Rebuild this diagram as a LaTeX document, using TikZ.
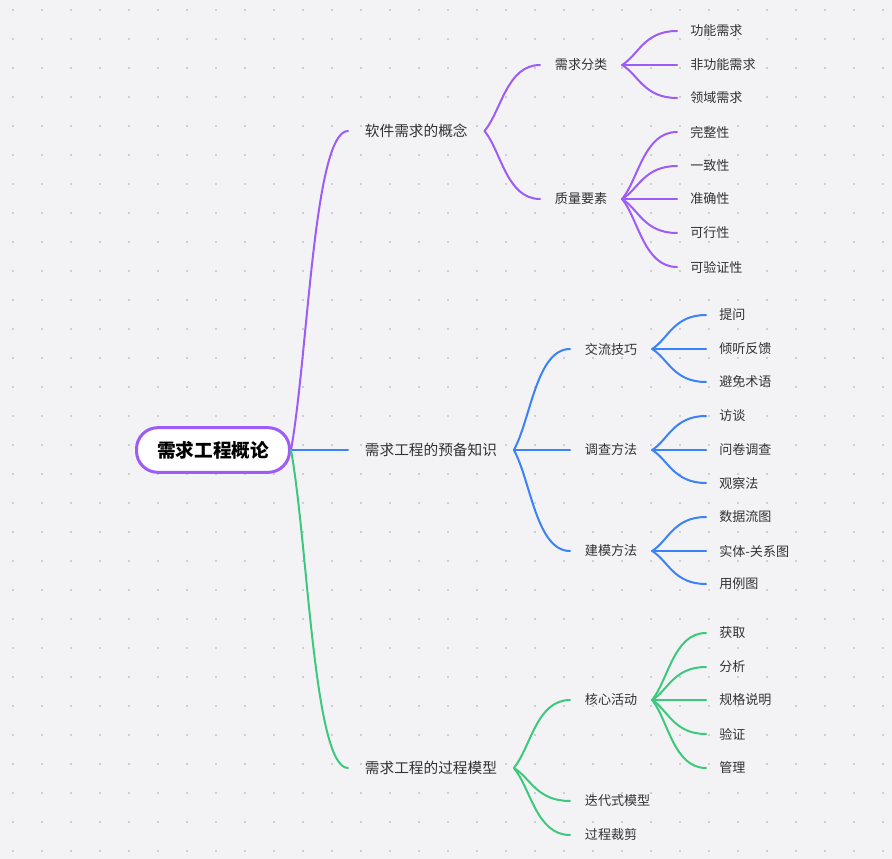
\documentclass[tikz,border=0pt]{standalone}
\usepackage{fontspec}
\setmainfont{Noto Sans CJK SC}
\usepackage{xcolor}
\usetikzlibrary{calc, positioning}

\definecolor{bgpaper}{RGB}{243,243,246}
\definecolor{griddot}{RGB}{205,205,210}
\definecolor{inktext}{RGB}{50,50,50}
\definecolor{mmpurple}{RGB}{157,92,246}
\definecolor{mmblue}{RGB}{59,130,246}
\definecolor{mmgreen}{RGB}{61,201,125}

\tikzset{
  limb/.style={line width=1.5pt, line cap=round,
    to path={let \p1=(\tikztostart), \p2=(\tikztotarget) in
      .. controls ({\x1+0.3*(\x2-\x1)},{\y1+0.3*(\y2-\y1)})
      and ({\x1+0.4*(\x2-\x1)},\y2) .. (\tikztotarget)}},
  root/.style={draw=mmpurple, line width=2.25pt, fill=white, rounded corners=16pt,
    minimum width=114.75pt, minimum height=33.5pt, text=black,
    font=\fontsize{14}{16}\selectfont\bfseries},
  major/.style={anchor=west, text=inktext, inner xsep=12.5pt, inner ysep=2pt,
    font=\fontsize{11}{13}\selectfont},
  minor/.style={anchor=west, text=inktext, inner xsep=11pt, inner ysep=2pt,
    font=\fontsize{9.8}{12}\selectfont},
  leaf/.style={anchor=west, text=inktext, inner xsep=9.75pt, inner ysep=2pt,
    font=\fontsize{9.8}{12}\selectfont},
}

\begin{document}
\begin{tikzpicture}[x=0.75pt, y=-0.75pt]

%-- paper and dot grid
\useasboundingbox (0,0) rectangle (892,859);
\fill[bgpaper] (0,0) rectangle (892,859);
\foreach \i in {0,...,30}
  \foreach \j in {0,...,29}
    \fill[griddot] ({12+29*\i},{9+29*\j}) rectangle +(2,2);

%-- central topic
\node[root] (topic) at (213,450) {需求工程概论};

%-- first level
\node[major] (concept) at (348,131) {软件需求的概念};
\node[major] (prep)    at (348,450) {需求工程的预备知识};
\node[major] (process) at (348,768) {需求工程的过程模型};

%-- second level
\node[minor] (kinds)   at (540, 65) {需求分类};
\node[minor] (quality) at (540,199) {质量要素};
\node[minor] (talk)    at (570,349) {交流技巧};
\node[minor] (survey)  at (570,450) {调查方法};
\node[minor] (model)   at (570,551) {建模方法};
\node[minor] (core)    at (570,700) {核心活动};
\node[minor] (iter)    at (570,801) {迭代式模型};
\node[minor] (tailor)  at (570,835) {过程裁剪};

%-- leaves
\node[leaf] (k1) at (677, 31) {功能需求};
\node[leaf] (k2) at (677, 65) {非功能需求};
\node[leaf] (k3) at (677, 98) {领域需求};

\node[leaf] (q1) at (677,132) {完整性};
\node[leaf] (q2) at (677,166) {一致性};
\node[leaf] (q3) at (677,199) {准确性};
\node[leaf] (q4) at (677,233) {可行性};
\node[leaf] (q5) at (677,267) {可验证性};

\node[leaf] (t1) at (706,315) {提问};
\node[leaf] (t2) at (706,349) {倾听反馈};
\node[leaf] (t3) at (706,382) {避免术语};

\node[leaf] (s1) at (706,416) {访谈};
\node[leaf] (s2) at (706,450) {问卷调查};
\node[leaf] (s3) at (706,483) {观察法};

\node[leaf] (m1) at (706,517) {数据流图};
\node[leaf] (m2) at (706,551) {实体-关系图};
\node[leaf] (m3) at (706,584) {用例图};

\node[leaf] (c1) at (706,633) {获取};
\node[leaf] (c2) at (706,667) {分析};
\node[leaf] (c3) at (706,700) {规格说明};
\node[leaf] (c4) at (706,734) {验证};
\node[leaf] (c5) at (706,768) {管理};

%-- branches
\draw[limb, mmpurple] (topic.east) to (concept.west);
\draw[limb, mmblue]   (topic.east) to (prep.west);
\draw[limb, mmgreen]  (topic.east) to (process.west);

\foreach \c in {kinds,quality}
  \draw[limb, mmpurple] (concept.east) to (\c.west);
\foreach \c in {k1,k2,k3}
  \draw[limb, mmpurple] (kinds.east) to (\c.west);
\foreach \c in {q1,q2,q3,q4,q5}
  \draw[limb, mmpurple] (quality.east) to (\c.west);

\foreach \c in {talk,survey,model}
  \draw[limb, mmblue] (prep.east) to (\c.west);
\foreach \c in {t1,t2,t3}
  \draw[limb, mmblue] (talk.east) to (\c.west);
\foreach \c in {s1,s2,s3}
  \draw[limb, mmblue] (survey.east) to (\c.west);
\foreach \c in {m1,m2,m3}
  \draw[limb, mmblue] (model.east) to (\c.west);

\foreach \c in {core,iter,tailor}
  \draw[limb, mmgreen] (process.east) to (\c.west);
\foreach \c in {c1,c2,c3,c4,c5}
  \draw[limb, mmgreen] (core.east) to (\c.west);

\end{tikzpicture}
\end{document}
